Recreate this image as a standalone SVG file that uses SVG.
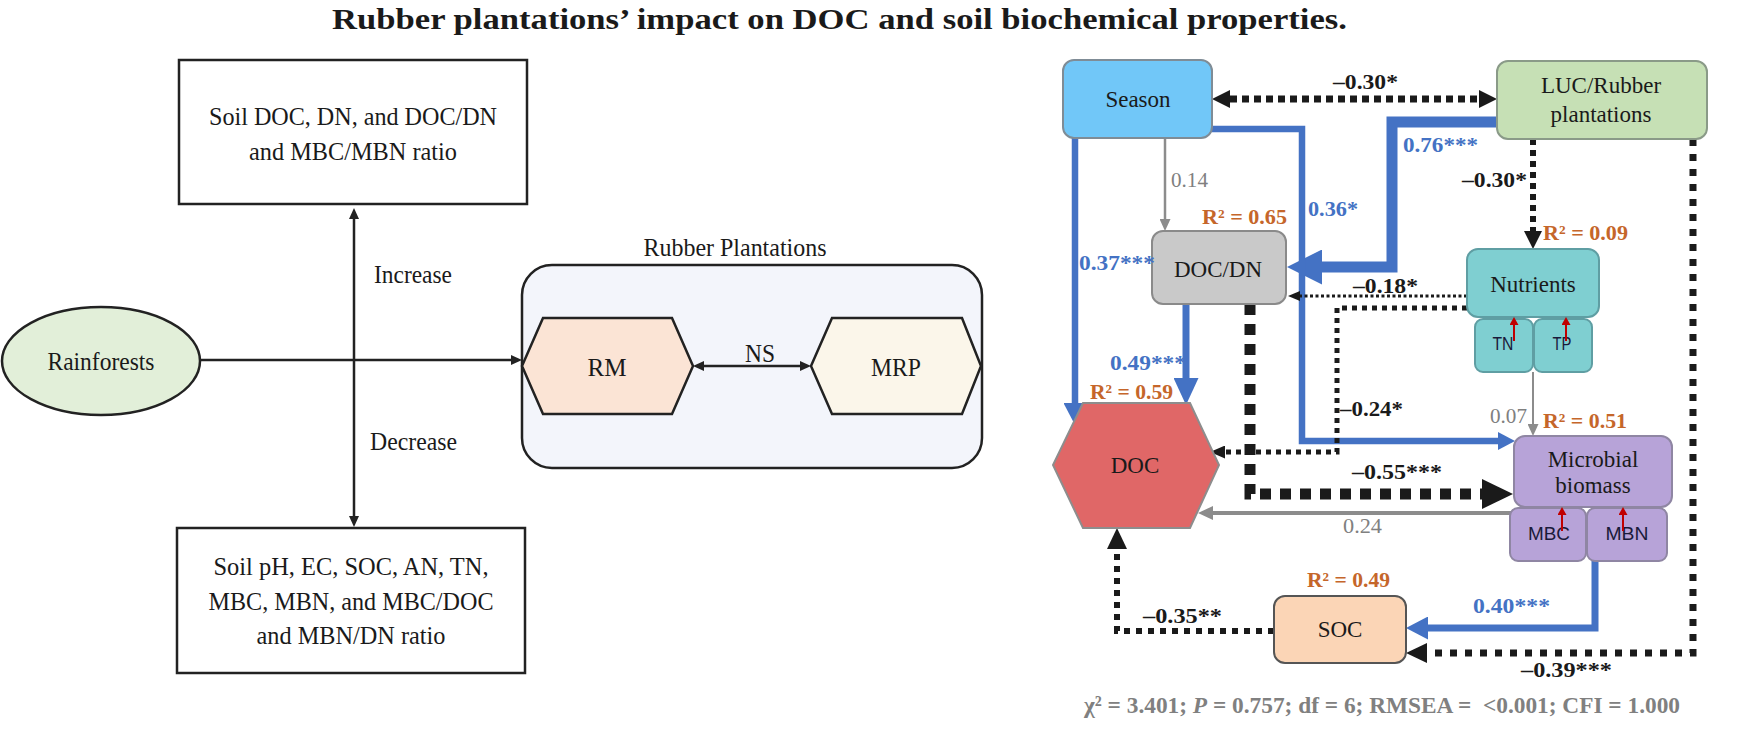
<svg xmlns="http://www.w3.org/2000/svg" width="1746" height="735" viewBox="0 0 1746 735">
<style>
.serif{font-family:"Liberation Serif","Times New Roman",serif;}
.sans{font-family:"Liberation Sans",Arial,sans-serif;}
.t26{font-size:26px;fill:#1a1a1a;}
.nt{font-size:23px;fill:#1a1a1a;}
.lb{font-size:22px;font-weight:bold;}
.lg{font-size:21px;fill:#808080;}
.blk{fill:#1a1a1a;}
.blu{fill:#4472c4;}
.org{fill:#c5662a;}
.gry{fill:#808080;}
.bx{fill:#ffffff;stroke:#222;stroke-width:2.5;}
.ln{fill:none;stroke:#222;stroke-width:2.5;}
.node{stroke-width:2;}
.sub{font-size:18px;fill:#1a1a3a;}
.bl{fill:none;stroke:#4472c4;stroke-linejoin:miter;}
.gl{fill:none;stroke:#8c8c8c;}
.dl{fill:none;stroke:#1a1a1a;}
.red{stroke:#c00000;stroke-width:2;fill:none;}
</style>
<defs>
<marker id="mk-l" markerUnits="userSpaceOnUse" markerWidth="11" markerHeight="10" refX="0" refY="5" orient="auto-start-reverse"><path d="M0,0 L11,5 L0,10 z" fill="#222"/></marker>
<marker id="mk-bm" markerUnits="userSpaceOnUse" markerWidth="18" markerHeight="18" refX="0" refY="9" orient="auto-start-reverse"><path d="M0,0 L18,9 L0,18 z" fill="#1a1a1a"/></marker>
<marker id="mk-bm2" markerUnits="userSpaceOnUse" markerWidth="21" markerHeight="20" refX="0" refY="10" orient="auto"><path d="M0,0 L21,10 L0,20 z" fill="#1a1a1a"/></marker>
<marker id="mk-bs" markerUnits="userSpaceOnUse" markerWidth="12" markerHeight="10" refX="0" refY="5" orient="auto"><path d="M0,0 L12,5 L0,10 z" fill="#1a1a1a"/></marker>
<marker id="mk-b24" markerUnits="userSpaceOnUse" markerWidth="15" markerHeight="13" refX="0" refY="6.5" orient="auto"><path d="M0,0 L15,6.5 L0,13 z" fill="#1a1a1a"/></marker>
<marker id="mk-bb" markerUnits="userSpaceOnUse" markerWidth="31" markerHeight="30" refX="0" refY="15" orient="auto"><path d="M0,0 L31,15 L0,30 z" fill="#1a1a1a"/></marker>
<marker id="mk-g" markerUnits="userSpaceOnUse" markerWidth="12" markerHeight="11" refX="0" refY="5.5" orient="auto"><path d="M0,0 L12,5.5 L0,11 z" fill="#8c8c8c"/></marker>
<marker id="mk-gm" markerUnits="userSpaceOnUse" markerWidth="15" markerHeight="14" refX="0" refY="7" orient="auto"><path d="M0,0 L15,7 L0,14 z" fill="#8c8c8c"/></marker>
<marker id="mk-bl1" markerUnits="userSpaceOnUse" markerWidth="22" markerHeight="23" refX="0" refY="11.5" orient="auto"><path d="M0,0 L22,11.5 L0,23 z" fill="#4472c4"/></marker>
<marker id="mk-bl2" markerUnits="userSpaceOnUse" markerWidth="27" markerHeight="25" refX="0" refY="12.5" orient="auto"><path d="M0,0 L27,12.5 L0,25 z" fill="#4472c4"/></marker>
<marker id="mk-bls" markerUnits="userSpaceOnUse" markerWidth="17" markerHeight="18" refX="0" refY="9" orient="auto"><path d="M0,0 L17,9 L0,18 z" fill="#4472c4"/></marker>
<marker id="mk-blb" markerUnits="userSpaceOnUse" markerWidth="35" markerHeight="35" refX="0" refY="17.5" orient="auto"><path d="M0,0 L35,17.5 L0,35 z" fill="#4472c4"/></marker>
<marker id="mk-r" markerUnits="userSpaceOnUse" markerWidth="8" markerHeight="9" refX="0" refY="4.5" orient="auto"><path d="M0,0 L8,4.5 L0,9 z" fill="#c00000"/></marker>
</defs>
<rect x="0" y="0" width="1746" height="735" fill="#ffffff"/>

<text id="title" class="serif" x="332" y="29" font-size="30" font-weight="bold" fill="#1a1a1a" textLength="1015" lengthAdjust="spacingAndGlyphs">Rubber plantations’ impact on DOC and soil biochemical properties.</text>

<!-- LEFT DIAGRAM CONNECTORS -->
<g id="connectors-left">
<line class="ln" x1="201" y1="360" x2="511" y2="360" marker-end="url(#mk-l)"/>
<line class="ln" x1="354" y1="219" x2="354" y2="516" marker-start="url(#mk-l)" marker-end="url(#mk-l)"/>
</g>

<g id="node-increase-box">
<rect class="bx" x="179" y="60" width="348" height="144"/>
<text class="serif t26" x="353" y="125" text-anchor="middle" textLength="288" lengthAdjust="spacingAndGlyphs">Soil DOC, DN, and DOC/DN</text>
<text class="serif t26" x="353" y="160" text-anchor="middle" textLength="208" lengthAdjust="spacingAndGlyphs">and MBC/MBN ratio</text>
</g>
<g id="node-decrease-box">
<rect class="bx" x="177" y="528" width="348" height="145"/>
<text class="serif t26" x="351" y="575" text-anchor="middle" textLength="275" lengthAdjust="spacingAndGlyphs">Soil pH, EC, SOC, AN, TN,</text>
<text class="serif t26" x="351" y="610" text-anchor="middle" textLength="285" lengthAdjust="spacingAndGlyphs">MBC, MBN, and MBC/DOC</text>
<text class="serif t26" x="351" y="644" text-anchor="middle" textLength="189" lengthAdjust="spacingAndGlyphs">and MBN/DN ratio</text>
</g>
<g id="node-rainforests">
<ellipse cx="101" cy="361" rx="99" ry="54" fill="#e2efd9" stroke="#222" stroke-width="2.5"/>
<text class="serif t26" x="101" y="370" text-anchor="middle" textLength="107" lengthAdjust="spacingAndGlyphs">Rainforests</text>
</g>
<text class="serif t26" x="374" y="283" textLength="78" lengthAdjust="spacingAndGlyphs">Increase</text>
<text class="serif t26" x="370" y="450" textLength="87" lengthAdjust="spacingAndGlyphs">Decrease</text>

<g id="node-rubber-plantations">
<rect x="522" y="265" width="460" height="203" rx="30" fill="#f3f5fb" stroke="#222" stroke-width="2.5"/>
<text class="serif t26" x="735" y="256" text-anchor="middle" textLength="183" lengthAdjust="spacingAndGlyphs">Rubber Plantations</text>
</g>
<g id="node-rm">
<polygon points="522,366 543,318 672,318 693,366 672,414 543,414" fill="#fbe4d5" stroke="#222" stroke-width="2.5"/>
<text class="serif t26" x="607" y="376" text-anchor="middle" textLength="39" lengthAdjust="spacingAndGlyphs">RM</text>
</g>
<g id="node-mrp">
<polygon points="811,366 832,318 962,318 981,366 962,414 832,414" fill="#fbf6ea" stroke="#222" stroke-width="2.5"/>
<text class="serif t26" x="896" y="376" text-anchor="middle" textLength="50" lengthAdjust="spacingAndGlyphs">MRP</text>
</g>
<g id="connector-ns">
<line class="ln" x1="704" y1="366" x2="800" y2="366" marker-start="url(#mk-l)" marker-end="url(#mk-l)"/>
<text class="serif t26" x="760" y="362" text-anchor="middle" textLength="30" lengthAdjust="spacingAndGlyphs">NS</text>
</g>

<!-- RIGHT DIAGRAM CONNECTORS -->
<g id="connectors-right">
<line class="dl" x1="1230" y1="99" x2="1479" y2="99" stroke-width="7" stroke-dasharray="7 5" marker-start="url(#mk-bm)" marker-end="url(#mk-bm)"/>
<polyline class="bl" points="1497,122 1392,122 1392,267 1322,267" stroke-width="11" marker-end="url(#mk-blb)"/>
<polyline class="bl" points="1075,138 1075,403" stroke-width="6.5" marker-end="url(#mk-bl1)"/>
<line class="gl" x1="1165" y1="138" x2="1165" y2="219" stroke-width="2.5" marker-end="url(#mk-g)"/>
<polyline class="bl" points="1212,129 1302,129 1302,441 1498,441" stroke-width="6.5" marker-end="url(#mk-bls)"/>
<line class="bl" x1="1186" y1="304" x2="1186" y2="378" stroke-width="7" marker-end="url(#mk-bl2)"/>
<line class="dl" x1="1467" y1="296" x2="1300" y2="296" stroke-width="3" stroke-dasharray="3 2.5" marker-end="url(#mk-bs)"/>
<polyline class="dl" points="1467,308 1337,308 1337,452 1225,452" stroke-width="5" stroke-dasharray="5 5" marker-end="url(#mk-b24)"/>
<polyline class="dl" points="1250,304 1250,494 1482,494" stroke-width="11" stroke-dasharray="11 9" marker-end="url(#mk-bb)"/>
<line class="gl" x1="1513" y1="513" x2="1213" y2="513" stroke-width="4" marker-end="url(#mk-gm)"/>
<line class="dl" x1="1533" y1="139" x2="1533" y2="231" stroke-width="6" stroke-dasharray="6 5" marker-end="url(#mk-bm)"/>
<line class="gl" x1="1533" y1="372" x2="1533" y2="424" stroke-width="2" marker-end="url(#mk-g)"/>
<polyline class="dl" points="1693,139 1693,653 1427,653" stroke-width="7" stroke-dasharray="7 8" marker-end="url(#mk-bm2)"/>
<polyline class="bl" points="1595,561 1595,628 1428,628" stroke-width="7" marker-end="url(#mk-bl1)"/>
<polyline class="dl" points="1274,631 1117,631 1117,549" stroke-width="6" stroke-dasharray="6 6" marker-end="url(#mk-bm2)"/>
</g>

<!-- RIGHT DIAGRAM NODES -->
<g id="node-season">
<rect class="node" x="1063" y="60" width="149" height="78" rx="11" fill="#71c7f8" stroke="#7f8c96"/>
<text class="serif nt" x="1138" y="107" text-anchor="middle" fill="#102a40">Season</text>
</g>
<g id="node-luc">
<rect class="node" x="1497" y="61" width="210" height="78" rx="11" fill="#c6e0b5" stroke="#8a9a88"/>
<text class="serif nt" x="1601" y="93" text-anchor="middle">LUC/Rubber</text>
<text class="serif nt" x="1601" y="122" text-anchor="middle">plantations</text>
</g>
<g id="node-docdn">
<rect class="node" x="1152" y="231" width="134" height="73" rx="11" fill="#c9c9c9" stroke="#8a8a8a"/>
<text class="serif nt" x="1218" y="277" text-anchor="middle">DOC/DN</text>
</g>
<g id="node-nutrients">
<rect class="node" x="1467" y="249" width="132" height="68" rx="11" fill="#7fcfd1" stroke="#5f9ea3"/>
<text class="serif nt" x="1533" y="292" text-anchor="middle">Nutrients</text>
</g>
<g id="node-tn">
<rect class="node" x="1475" y="319" width="58" height="53" rx="8" fill="#7fcfd1" stroke="#5f9ea3"/>
<text class="sans sub" x="1503" y="350" text-anchor="middle" textLength="21" lengthAdjust="spacingAndGlyphs">TN</text>
</g>
<g id="node-tp">
<rect class="node" x="1534" y="319" width="58" height="53" rx="8" fill="#7fcfd1" stroke="#5f9ea3"/>
<text class="sans sub" x="1562" y="350" text-anchor="middle" textLength="19" lengthAdjust="spacingAndGlyphs">TP</text>
</g>
<g id="node-microbial">
<rect class="node" x="1514" y="436" width="158" height="71" rx="11" fill="#b7a3d8" stroke="#8f86a3"/>
<text class="serif nt" x="1593" y="467" text-anchor="middle">Microbial</text>
<text class="serif nt" x="1593" y="493" text-anchor="middle">biomass</text>
</g>
<g id="node-mbc">
<rect class="node" x="1510" y="508" width="76" height="53" rx="8" fill="#b7a3d8" stroke="#8f86a3"/>
<text class="sans sub" x="1549" y="540" text-anchor="middle" textLength="42" lengthAdjust="spacingAndGlyphs">MBC</text>
</g>
<g id="node-mbn">
<rect class="node" x="1587" y="508" width="80" height="53" rx="8" fill="#b7a3d8" stroke="#8f86a3"/>
<text class="sans sub" x="1627" y="540" text-anchor="middle" textLength="43" lengthAdjust="spacingAndGlyphs">MBN</text>
</g>
<g id="node-doc">
<polygon points="1083,403 1190,403 1219,465 1190,528 1083,528 1053,465" fill="#e06767" stroke="#8d8d8d" stroke-width="2"/>
<text class="serif nt" x="1135" y="473" text-anchor="middle" fill="#3a0a0a">DOC</text>
</g>
<g id="node-soc">
<rect class="node" x="1274" y="596" width="132" height="67" rx="11" fill="#fbd5b6" stroke="#555555"/>
<text class="serif nt" x="1340" y="637" text-anchor="middle">SOC</text>
</g>

<!-- indicator arrows -->
<g id="indicator-arrows">
<line class="red" x1="1514" y1="341" x2="1514" y2="325" marker-end="url(#mk-r)"/>
<line class="red" x1="1566" y1="341" x2="1566" y2="325" marker-end="url(#mk-r)"/>
<line class="red" x1="1562" y1="531" x2="1562" y2="515" marker-end="url(#mk-r)"/>
<line class="red" x1="1623" y1="531" x2="1623" y2="515" marker-end="url(#mk-r)"/>
</g>

<!-- LABELS -->
<g id="labels" class="serif">
<text class="lb blk" x="1333" y="89" textLength="65" lengthAdjust="spacingAndGlyphs">–0.30*</text>
<text class="lb blu" x="1403" y="152" textLength="75" lengthAdjust="spacingAndGlyphs">0.76***</text>
<text class="lb blu" x="1308" y="216" textLength="50" lengthAdjust="spacingAndGlyphs">0.36*</text>
<text class="lg" x="1171" y="187" textLength="37" lengthAdjust="spacingAndGlyphs">0.14</text>
<text class="lb org" x="1202" y="224" textLength="85" lengthAdjust="spacingAndGlyphs">R² = 0.65</text>
<text class="lb blu" x="1079" y="270" textLength="76" lengthAdjust="spacingAndGlyphs">0.37***</text>
<text class="lb blk" x="1462" y="187" textLength="65" lengthAdjust="spacingAndGlyphs">–0.30*</text>
<text class="lb org" x="1543" y="240" textLength="85" lengthAdjust="spacingAndGlyphs">R² = 0.09</text>
<text class="lb blk" x="1353" y="293" textLength="65" lengthAdjust="spacingAndGlyphs">–0.18*</text>
<text class="lb blu" x="1110" y="370" textLength="76" lengthAdjust="spacingAndGlyphs">0.49***</text>
<text class="lb org" x="1090" y="399" textLength="83" lengthAdjust="spacingAndGlyphs">R² = 0.59</text>
<text class="lb blk" x="1340" y="416" textLength="63" lengthAdjust="spacingAndGlyphs">–0.24*</text>
<text class="lg" x="1490" y="423" textLength="37" lengthAdjust="spacingAndGlyphs">0.07</text>
<text class="lb org" x="1543" y="428" textLength="84" lengthAdjust="spacingAndGlyphs">R² = 0.51</text>
<text class="lb blk" x="1352" y="479" textLength="90" lengthAdjust="spacingAndGlyphs">–0.55***</text>
<text class="lg" x="1343" y="533" textLength="39" lengthAdjust="spacingAndGlyphs">0.24</text>
<text class="lb org" x="1307" y="587" textLength="83" lengthAdjust="spacingAndGlyphs">R² = 0.49</text>
<text class="lb blu" x="1473" y="613" textLength="77" lengthAdjust="spacingAndGlyphs">0.40***</text>
<text class="lb blk" x="1143" y="623" textLength="79" lengthAdjust="spacingAndGlyphs">–0.35**</text>
<text class="lb blk" x="1521" y="677" textLength="91" lengthAdjust="spacingAndGlyphs">–0.39***</text>
<text class="gry" x="1084" y="713" font-size="24" font-weight="bold" textLength="596" lengthAdjust="spacingAndGlyphs" xml:space="preserve">χ² = 3.401; <tspan font-style="italic">P</tspan> = 0.757; df = 6; RMSEA =  &lt;0.001; CFI = 1.000</text>
</g>
</svg>
